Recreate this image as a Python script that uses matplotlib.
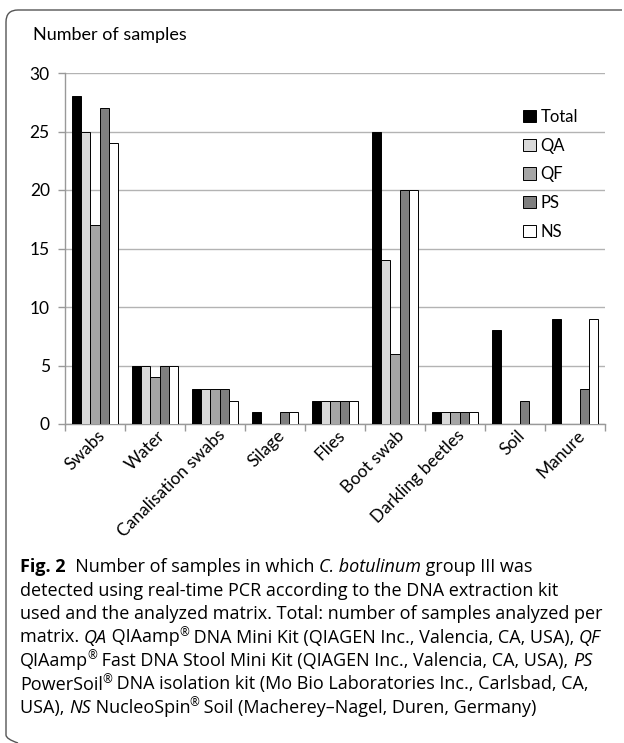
import matplotlib
matplotlib.use("Agg")
import matplotlib.pyplot as plt
import numpy as np
from matplotlib.patches import Patch
from matplotlib.path import Path
from matplotlib.patches import PathPatch

categories = ["Swabs", "Water", "Canalisation swabs", "Silage", "Flies",
              "Boot swab", "Darkling beetles", "Soil", "Manure"]
series_names = ["Total", "QA", "QF", "PS", "NS"]
total = [28, 5, 3, 1, 2, 25, 1, 8, 9]
qa = [25, 5, 3, 0, 2, 14, 1, 0, 0]
qf = [17, 4, 3, 0, 2, 6, 1, 0, 0]
ps = [27, 5, 3, 1, 2, 20, 1, 2, 3]
ns = [24, 5, 2, 1, 2, 20, 1, 0, 9]
yticks = [0, 5, 10, 15, 20, 25, 30]

series = [total, qa, qf, ps, ns]
colors = ["#000000", "#d9d9d9", "#a6a6a6", "#7f7f7f", "#ffffff"]

W, H = 624, 743
fig = plt.figure(figsize=(W / 100, H / 100), dpi=100)
plt.rcParams['font.family'] = ['Open Sans', 'DejaVu Sans']

def fx(px):
    return px / W

def fy(py):
    return 1 - py / H

ax = fig.add_axes([fx(65), fy(424), fx(605) - fx(65), fy(73) - fy(424)])

n = len(series)
bw = 0.153
x = np.arange(len(categories)) + 0.5
for i, (vals, c) in enumerate(zip(series, colors)):
    offs = (i - (n - 1) / 2) * bw
    ax.bar(x + offs, vals, width=bw, color=c, edgecolor="#000000",
           linewidth=0.7, zorder=3, label=series_names[i])

ax.set_xlim(0, len(categories))
ax.set_ylim(0, 30)
ax.set_yticks(yticks)
ax.set_yticklabels([str(v) for v in yticks], fontsize=12.5, family=['Lato', 'DejaVu Sans'])
ax.yaxis.grid(True, color="#b3b3b3", linewidth=1.0, zorder=0)
ax.set_axisbelow(True)
ax.set_xticks(np.arange(len(categories) + 1))
ax.set_xticklabels([])
ax.tick_params(axis='x', length=5, color="#999999", width=1)
ax.tick_params(axis='y', length=5, color="#999999", width=1, pad=6)
for s in ["top", "right"]:
    ax.spines[s].set_visible(False)
for s in ["left", "bottom"]:
    ax.spines[s].set_color("#999999")
    ax.spines[s].set_linewidth(1)

for xi, lab in zip(x, categories):
    ax.text(xi + 0.12, -0.75, lab, rotation=45, ha='right', va='center',
            rotation_mode='anchor', fontsize=12.5, family=['Lato', 'DejaVu Sans'])

handles = [Patch(facecolor=c, edgecolor="#000000", linewidth=0.7) for c in colors]
fig.legend(handles, series_names, loc='upper left',
           bbox_to_anchor=(fx(508), fy(94)), frameon=False,
           handlelength=0.75, handleheight=0.75, handletextpad=0.3,
           labelspacing=0.76, prop={'family': ['Lato', 'DejaVu Sans'], 'size': 12})

fig.text(fx(33), fy(35), "Number of samples", fontsize=13, va='center', ha='left',
         family=['Lato', 'DejaVu Sans'])

# frame: left + top with rounded corners
r = 12
x0, y0 = 6, 10
verts = [(fx(x0 + r), fy(743)), (fx(x0), fy(743 - 4)), (fx(x0), fy(735)),
         (fx(x0), fy(y0 + r)), (fx(x0), fy(y0)), (fx(x0 + r), fy(y0)),
         (fx(622), fy(y0))]
codes = [Path.MOVETO, Path.CURVE3, Path.CURVE3, Path.LINETO, Path.CURVE3,
         Path.CURVE3, Path.LINETO]
fig.add_artist(PathPatch(Path(verts, codes), transform=fig.transFigure,
                         fill=False, edgecolor="#555555", linewidth=1.0))

# caption
cap_lines = [
    [("Fig. 2", "bold"), ("  Number of samples in which ", "n"), ("C. botulinum", "i"), (" group III was", "n")],
    [("detected using real-time PCR according to the DNA extraction kit", "n")],
    [("used and the analyzed matrix. Total: number of samples analyzed per", "n")],
    [("matrix. ", "n"), ("QA", "i"), (" QIAamp", "n"), ("®", "s"), (" DNA Mini Kit (QIAGEN Inc., Valencia, CA, USA), ", "n"), ("QF", "i")],
    [("QIAamp", "n"), ("®", "s"), (" Fast DNA Stool Mini Kit (QIAGEN Inc., Valencia, CA, USA), ", "n"), ("PS", "i")],
    [("PowerSoil", "n"), ("®", "s"), (" DNA isolation kit (Mo Bio Laboratories Inc., Carlsbad, CA,", "n")],
    [("USA), ", "n"), ("NS", "i"), (" NucleoSpin", "n"), ("®", "s"), (" Soil (Macherey\u2013Nagel, Duren, Germany)", "n")],
]
fs = 13.0
fig.canvas.draw()
renderer = fig.canvas.get_renderer()
base0 = 572
lh = 23.5
for li, pieces in enumerate(cap_lines):
    xp = 20
    yb = base0 + li * lh
    for txt, st in pieces:
        kw = dict(fontsize=fs, va='baseline', ha='left', family=['Open Sans', 'DejaVu Sans'])
        yy = yb
        if st == "bold":
            kw['fontweight'] = 'bold'
        elif st == "i":
            kw['fontstyle'] = 'italic'
        elif st == "s":
            kw['fontsize'] = fs * 0.65
            yy = yb - 6.5
            xp -= 0.8
        t = fig.text(fx(xp), fy(yy), txt, **kw)
        bb = t.get_window_extent(renderer)
        xp = bb.x1

fig.savefig("out.png", dpi=100)
